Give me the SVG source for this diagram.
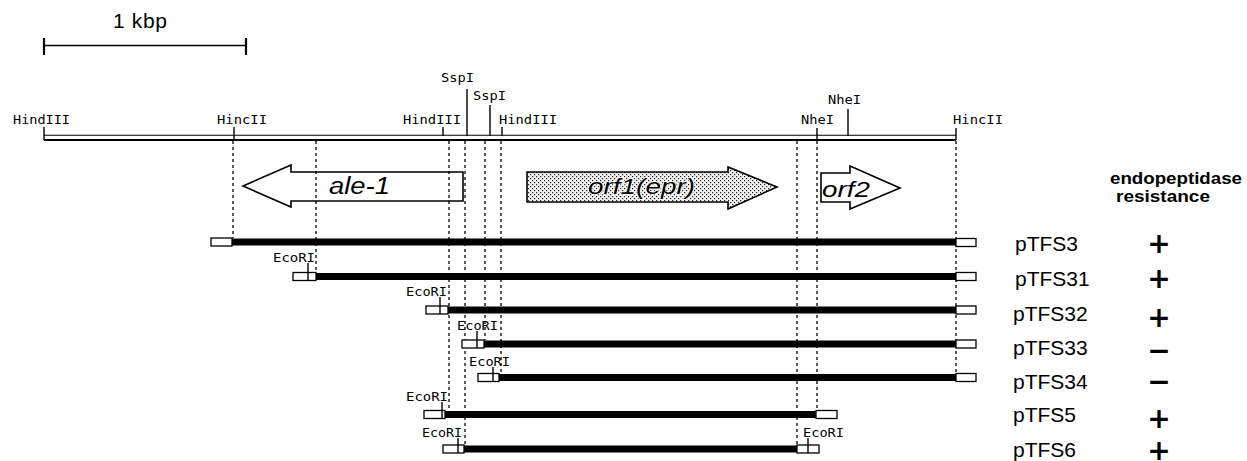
<svg xmlns="http://www.w3.org/2000/svg" width="1247" height="461" viewBox="0 0 1247 461">
<defs>
<pattern id="stipple" width="4" height="4" patternUnits="userSpaceOnUse">
<rect width="4" height="4" fill="#f2f2f2"/>
<rect x="0" y="0" width="1.2" height="1.2" fill="#222"/>
<rect x="2" y="2" width="1.2" height="1.2" fill="#222"/>
</pattern>
</defs>
<style>
.site{font-family:"DejaVu Sans Mono","Liberation Mono",monospace;font-size:13px;fill:#000}
.tick{stroke:#000;stroke-width:1.4;fill:none}
.dash{stroke:#000;stroke-width:1.3;stroke-dasharray:3 3;fill:none}
.bar{fill:#000}
.box{fill:#fff;stroke:#000;stroke-width:1.3}
.gene{font-family:"Liberation Sans",Arial,sans-serif;font-style:italic;fill:#000}
.name{font-family:"Liberation Sans",Arial,sans-serif;font-size:21px;fill:#000}
.sign{font-family:"DejaVu Sans",sans-serif;font-size:28px;font-weight:bold;fill:#000;text-anchor:middle}
.head{font-family:"Liberation Sans",Arial,sans-serif;font-size:16.5px;font-weight:bold;fill:#000}
.arrow{stroke:#000;stroke-width:1.6;stroke-linejoin:miter}
</style>
<rect width="1247" height="461" fill="#fff"/>

<g id="scale">
<text x="113" y="28" font-family="Liberation Sans, Arial, sans-serif" font-size="21" textLength="54">1 kbp</text>
<line x1="44" y1="45.5" x2="246" y2="45.5" stroke="#000" stroke-width="1.6"/>
<line x1="44" y1="38" x2="44" y2="55" stroke="#000" stroke-width="2.2"/>
<line x1="246" y1="38" x2="246" y2="55" stroke="#000" stroke-width="2.2"/>
</g>

<g id="map">
<line x1="44" y1="135.3" x2="956" y2="135.3" stroke="#000" stroke-width="1.1"/>
<line x1="44" y1="140" x2="956" y2="140" stroke="#000" stroke-width="1.8"/>
<line class="tick" x1="44" y1="127" x2="44" y2="140"/>
<line class="tick" x1="234" y1="127" x2="234" y2="140"/>
<line class="tick" x1="443" y1="127" x2="443" y2="136"/>
<line class="tick" x1="467" y1="89" x2="467" y2="136"/>
<line class="tick" x1="490" y1="105" x2="490" y2="136"/>
<line class="tick" x1="502" y1="127" x2="502" y2="136"/>
<line class="tick" x1="817" y1="128" x2="817" y2="140"/>
<line class="tick" x1="848" y1="109" x2="848" y2="136"/>
<line class="tick" x1="956" y1="128" x2="956" y2="140"/>
<text class="site" x="13" y="124" textLength="57" lengthAdjust="spacingAndGlyphs">HindIII</text>
<text class="site" x="217" y="124" textLength="50" lengthAdjust="spacingAndGlyphs">HincII</text>
<text class="site" x="403" y="124" textLength="58" lengthAdjust="spacingAndGlyphs">HindIII</text>
<text class="site" x="441" y="82" textLength="33" lengthAdjust="spacingAndGlyphs">SspI</text>
<text class="site" x="473" y="100" textLength="33" lengthAdjust="spacingAndGlyphs">SspI</text>
<text class="site" x="499" y="124" textLength="58" lengthAdjust="spacingAndGlyphs">HindIII</text>
<text class="site" x="801" y="124" textLength="33" lengthAdjust="spacingAndGlyphs">NheI</text>
<text class="site" x="828" y="104" textLength="33" lengthAdjust="spacingAndGlyphs">NheI</text>
<text class="site" x="953" y="124" textLength="50" lengthAdjust="spacingAndGlyphs">HincII</text>
</g>

<g id="gene-ale1">
<polygon class="arrow" fill="#fff" points="243,186 291,165 291,172 463,172 463,201 291,201 291,207"/>
<text class="gene" x="329" y="194" font-size="23" textLength="61" lengthAdjust="spacingAndGlyphs">ale-1</text>
</g>

<g id="gene-orf1">
<polygon class="arrow" fill="url(#stipple)" points="527,172 728,172 728,167 777,187 728,209 728,202 527,202"/>
<text class="gene" x="588" y="194" font-size="22" textLength="107" lengthAdjust="spacingAndGlyphs" stroke="#fff" stroke-width="1.5" paint-order="stroke">orf1(epr)</text>
</g>

<g id="gene-orf2">
<polygon class="arrow" fill="#fff" points="821,173 850,173 850,166 900,188 850,209 850,202 821,202"/>
<text class="gene" x="822" y="197" font-size="22" textLength="48" lengthAdjust="spacingAndGlyphs">orf2</text>
</g>

<g id="header">
<text class="head" x="1110" y="184" textLength="132" lengthAdjust="spacingAndGlyphs">endopeptidase</text>
<text class="head" x="1116" y="202" textLength="94" lengthAdjust="spacingAndGlyphs">resistance</text>
</g>

<g id="connectors">
<line class="dash" x1="233" y1="141" x2="233" y2="238"/>
<line class="dash" x1="316" y1="141" x2="316" y2="273"/>
<line class="dash" x1="449" y1="141" x2="449" y2="411"/>
<line class="dash" x1="465" y1="141" x2="465" y2="445"/>
<line class="dash" x1="485" y1="141" x2="485" y2="340"/>
<line class="dash" x1="501" y1="141" x2="501" y2="374"/>
<line class="dash" x1="797" y1="141" x2="797" y2="445"/>
<line class="dash" x1="817" y1="141" x2="817" y2="411"/>
<line class="dash" x1="956" y1="141" x2="956" y2="374"/>
</g>

<g id="pTFS3">
<rect class="bar" x="232" y="238.5" width="724" height="7"/>
<rect class="box" x="211" y="238" width="21" height="8"/>
<rect class="box" x="956" y="238.5" width="20" height="8"/>
<text class="name" x="1015" y="251">pTFS3</text>
<text class="sign" x="1159" y="253">+</text>
</g>

<g id="pTFS31">
<rect class="bar" x="316" y="273" width="640" height="7"/>
<rect class="box" x="293" y="272.5" width="23" height="8"/>
<rect class="box" x="956" y="272.5" width="20" height="8"/>
<line class="tick" x1="308" y1="263" x2="308" y2="280.5"/>
<text class="site" x="273" y="262" textLength="42" lengthAdjust="spacingAndGlyphs">EcoRI</text>
<text class="name" x="1015" y="286">pTFS31</text>
<text class="sign" x="1159" y="288">+</text>
</g>

<g id="pTFS32">
<rect class="bar" x="448" y="306.5" width="508" height="7"/>
<rect class="box" x="426" y="306" width="22" height="8"/>
<rect class="box" x="956" y="306" width="20" height="8"/>
<line class="tick" x1="440" y1="297" x2="440" y2="314"/>
<text class="site" x="406" y="296" textLength="41" lengthAdjust="spacingAndGlyphs">EcoRI</text>
<text class="name" x="1013" y="321">pTFS32</text>
<text class="sign" x="1159" y="327">+</text>
</g>

<g id="pTFS33">
<rect class="bar" x="484" y="340.5" width="472" height="7"/>
<rect class="box" x="462" y="340" width="22" height="8"/>
<rect class="box" x="956" y="340" width="20" height="8"/>
<line class="tick" x1="477" y1="331" x2="477" y2="348"/>
<text class="site" x="457" y="330" textLength="41" lengthAdjust="spacingAndGlyphs">EcoRI</text>
<text class="name" x="1013" y="355">pTFS33</text>
<text class="sign" x="1159" y="360">−</text>
</g>

<g id="pTFS34">
<rect class="bar" x="499" y="374" width="457" height="7"/>
<rect class="box" x="478" y="373.5" width="21" height="8"/>
<rect class="box" x="956" y="373.5" width="20" height="8"/>
<line class="tick" x1="493" y1="367" x2="493" y2="381.5"/>
<text class="site" x="469" y="366" textLength="41" lengthAdjust="spacingAndGlyphs">EcoRI</text>
<text class="name" x="1013" y="389">pTFS34</text>
<text class="sign" x="1159" y="391">−</text>
</g>

<g id="pTFS5">
<rect class="bar" x="445" y="411" width="371" height="7"/>
<rect class="box" x="424" y="410.5" width="21" height="8"/>
<rect class="box" x="816" y="410.5" width="21" height="8"/>
<line class="tick" x1="442" y1="402" x2="442" y2="418.5"/>
<text class="site" x="406" y="401" textLength="42" lengthAdjust="spacingAndGlyphs">EcoRI</text>
<text class="name" x="1013" y="422">pTFS5</text>
<text class="sign" x="1159" y="428">+</text>
</g>

<g id="pTFS6">
<rect class="bar" x="464" y="445.5" width="333" height="7"/>
<rect class="box" x="443" y="445" width="21" height="8"/>
<rect class="box" x="797" y="445" width="22" height="8"/>
<line class="tick" x1="458" y1="438" x2="458" y2="453"/>
<line class="tick" x1="808" y1="438" x2="808" y2="453"/>
<text class="site" x="422" y="437" textLength="40" lengthAdjust="spacingAndGlyphs">EcoRI</text>
<text class="site" x="803" y="437" textLength="41" lengthAdjust="spacingAndGlyphs">EcoRI</text>
<text class="name" x="1013" y="457">pTFS6</text>
<text class="sign" x="1159" y="460">+</text>
</g>
</svg>
